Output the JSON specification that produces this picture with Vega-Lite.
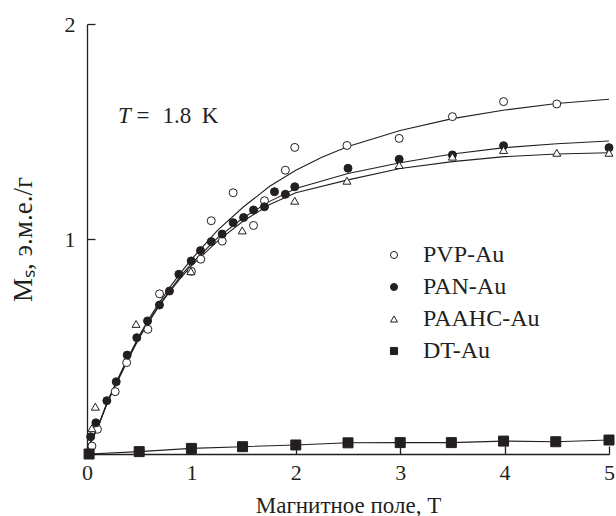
{
  "$schema": "https://vega.github.io/schema/vega-lite/v6.json",
  "width": 522,
  "height": 430,
  "autosize": "none",
  "padding": {"left": 87, "top": 24, "right": 7, "bottom": 62},
  "background": "white",
  "config": {
    "view": {"stroke": null},
    "font": "Liberation Serif",
    "axis": {
      "grid": false,
      "domainColor": "#231f20",
      "domainWidth": 1.3,
      "tickColor": "#231f20",
      "tickWidth": 1.3,
      "tickSize": -8,
      "labelFont": "Liberation Serif",
      "labelFontSize": 22,
      "labelColor": "#231f20",
      "titleFont": "Liberation Serif",
      "titleFontSize": 23,
      "titleFontWeight": "normal",
      "titleColor": "#231f20",
      "format": "d"
    },
    "legend": {
      "labelFont": "Liberation Serif",
      "labelFontSize": 24,
      "labelColor": "#231f20",
      "symbolSize": 50,
      "symbolStrokeColor": "#231f20",
      "symbolStrokeWidth": 1,
      "rowPadding": 8,
      "labelOffset": 17
    }
  },
  "datasets": {
    "curves": [
      {"series": "PVP-Au", "field": 0.03, "m": 0.05},
      {"series": "PVP-Au", "field": 0.1, "m": 0.12},
      {"series": "PVP-Au", "field": 0.2, "m": 0.25},
      {"series": "PVP-Au", "field": 0.3, "m": 0.355},
      {"series": "PVP-Au", "field": 0.4, "m": 0.455},
      {"series": "PVP-Au", "field": 0.5, "m": 0.55},
      {"series": "PVP-Au", "field": 0.6, "m": 0.635},
      {"series": "PVP-Au", "field": 0.7, "m": 0.71},
      {"series": "PVP-Au", "field": 0.8, "m": 0.78},
      {"series": "PVP-Au", "field": 0.9, "m": 0.845},
      {"series": "PVP-Au", "field": 1.0, "m": 0.905},
      {"series": "PVP-Au", "field": 1.25, "m": 1.04},
      {"series": "PVP-Au", "field": 1.5, "m": 1.15},
      {"series": "PVP-Au", "field": 1.75, "m": 1.245},
      {"series": "PVP-Au", "field": 2.0, "m": 1.32},
      {"series": "PVP-Au", "field": 2.25, "m": 1.38},
      {"series": "PVP-Au", "field": 2.5, "m": 1.43},
      {"series": "PVP-Au", "field": 3.0, "m": 1.505},
      {"series": "PVP-Au", "field": 3.5, "m": 1.56},
      {"series": "PVP-Au", "field": 4.0, "m": 1.6},
      {"series": "PVP-Au", "field": 4.5, "m": 1.63},
      {"series": "PVP-Au", "field": 5.0, "m": 1.65},
      {"series": "PAN-Au", "field": 0.03, "m": 0.05},
      {"series": "PAN-Au", "field": 0.1, "m": 0.12},
      {"series": "PAN-Au", "field": 0.2, "m": 0.245},
      {"series": "PAN-Au", "field": 0.3, "m": 0.35},
      {"series": "PAN-Au", "field": 0.4, "m": 0.45},
      {"series": "PAN-Au", "field": 0.5, "m": 0.545},
      {"series": "PAN-Au", "field": 0.6, "m": 0.625},
      {"series": "PAN-Au", "field": 0.7, "m": 0.7},
      {"series": "PAN-Au", "field": 0.8, "m": 0.765},
      {"series": "PAN-Au", "field": 0.9, "m": 0.83},
      {"series": "PAN-Au", "field": 1.0, "m": 0.885},
      {"series": "PAN-Au", "field": 1.25, "m": 1.005},
      {"series": "PAN-Au", "field": 1.5, "m": 1.1},
      {"series": "PAN-Au", "field": 1.75, "m": 1.175},
      {"series": "PAN-Au", "field": 2.0, "m": 1.235},
      {"series": "PAN-Au", "field": 2.5, "m": 1.305},
      {"series": "PAN-Au", "field": 3.0, "m": 1.355},
      {"series": "PAN-Au", "field": 3.5, "m": 1.395},
      {"series": "PAN-Au", "field": 4.0, "m": 1.425},
      {"series": "PAN-Au", "field": 4.5, "m": 1.443},
      {"series": "PAN-Au", "field": 5.0, "m": 1.456},
      {"series": "PAAHC-Au", "field": 0.03, "m": 0.05},
      {"series": "PAAHC-Au", "field": 0.1, "m": 0.12},
      {"series": "PAAHC-Au", "field": 0.2, "m": 0.245},
      {"series": "PAAHC-Au", "field": 0.3, "m": 0.345},
      {"series": "PAAHC-Au", "field": 0.4, "m": 0.445},
      {"series": "PAAHC-Au", "field": 0.5, "m": 0.54},
      {"series": "PAAHC-Au", "field": 0.6, "m": 0.62},
      {"series": "PAAHC-Au", "field": 0.7, "m": 0.695},
      {"series": "PAAHC-Au", "field": 0.8, "m": 0.76},
      {"series": "PAAHC-Au", "field": 0.9, "m": 0.82},
      {"series": "PAAHC-Au", "field": 1.0, "m": 0.875},
      {"series": "PAAHC-Au", "field": 1.25, "m": 0.99},
      {"series": "PAAHC-Au", "field": 1.5, "m": 1.085},
      {"series": "PAAHC-Au", "field": 1.75, "m": 1.16},
      {"series": "PAAHC-Au", "field": 2.0, "m": 1.215},
      {"series": "PAAHC-Au", "field": 2.5, "m": 1.275},
      {"series": "PAAHC-Au", "field": 3.0, "m": 1.328},
      {"series": "PAAHC-Au", "field": 3.5, "m": 1.36},
      {"series": "PAAHC-Au", "field": 4.0, "m": 1.383},
      {"series": "PAAHC-Au", "field": 4.5, "m": 1.395},
      {"series": "PAAHC-Au", "field": 5.0, "m": 1.401}
    ],
    "points": [
      {"series": "PVP-Au", "field": 0.047, "m": 0.037},
      {"series": "PVP-Au", "field": 0.1, "m": 0.115},
      {"series": "PVP-Au", "field": 0.27, "m": 0.29},
      {"series": "PVP-Au", "field": 0.38, "m": 0.425},
      {"series": "PVP-Au", "field": 0.583, "m": 0.58},
      {"series": "PVP-Au", "field": 0.695, "m": 0.745},
      {"series": "PVP-Au", "field": 1.0, "m": 0.85},
      {"series": "PVP-Au", "field": 1.09, "m": 0.906},
      {"series": "PVP-Au", "field": 1.19, "m": 1.085},
      {"series": "PVP-Au", "field": 1.295, "m": 0.99},
      {"series": "PVP-Au", "field": 1.4, "m": 1.215},
      {"series": "PVP-Au", "field": 1.595, "m": 1.063},
      {"series": "PVP-Au", "field": 1.7, "m": 1.178},
      {"series": "PVP-Au", "field": 1.9, "m": 1.32},
      {"series": "PVP-Au", "field": 1.99, "m": 1.426},
      {"series": "PVP-Au", "field": 2.49, "m": 1.435},
      {"series": "PVP-Au", "field": 2.99, "m": 1.468},
      {"series": "PVP-Au", "field": 3.5, "m": 1.569},
      {"series": "PVP-Au", "field": 3.99, "m": 1.639},
      {"series": "PVP-Au", "field": 4.5, "m": 1.628},
      {"series": "PAN-Au", "field": 0.035, "m": 0.08},
      {"series": "PAN-Au", "field": 0.085, "m": 0.145},
      {"series": "PAN-Au", "field": 0.19, "m": 0.248},
      {"series": "PAN-Au", "field": 0.28, "m": 0.336},
      {"series": "PAN-Au", "field": 0.385, "m": 0.46},
      {"series": "PAN-Au", "field": 0.477, "m": 0.541},
      {"series": "PAN-Au", "field": 0.58, "m": 0.619},
      {"series": "PAN-Au", "field": 0.694, "m": 0.693},
      {"series": "PAN-Au", "field": 0.79, "m": 0.758},
      {"series": "PAN-Au", "field": 0.88, "m": 0.836},
      {"series": "PAN-Au", "field": 0.998, "m": 0.898},
      {"series": "PAN-Au", "field": 1.087, "m": 0.946},
      {"series": "PAN-Au", "field": 1.19, "m": 0.988},
      {"series": "PAN-Au", "field": 1.295, "m": 1.023},
      {"series": "PAN-Au", "field": 1.4, "m": 1.076},
      {"series": "PAN-Au", "field": 1.5, "m": 1.1},
      {"series": "PAN-Au", "field": 1.595, "m": 1.135},
      {"series": "PAN-Au", "field": 1.7, "m": 1.15},
      {"series": "PAN-Au", "field": 1.796, "m": 1.22},
      {"series": "PAN-Au", "field": 1.9, "m": 1.208},
      {"series": "PAN-Au", "field": 1.99, "m": 1.243},
      {"series": "PAN-Au", "field": 2.5, "m": 1.329},
      {"series": "PAN-Au", "field": 2.99, "m": 1.371},
      {"series": "PAN-Au", "field": 3.5, "m": 1.391},
      {"series": "PAN-Au", "field": 3.99, "m": 1.434},
      {"series": "PAN-Au", "field": 5.0, "m": 1.425},
      {"series": "PAAHC-Au", "field": 0.047, "m": 0.12},
      {"series": "PAAHC-Au", "field": 0.08, "m": 0.22},
      {"series": "PAAHC-Au", "field": 0.47, "m": 0.605},
      {"series": "PAAHC-Au", "field": 0.995, "m": 0.85},
      {"series": "PAAHC-Au", "field": 1.487, "m": 1.04},
      {"series": "PAAHC-Au", "field": 1.99, "m": 1.178},
      {"series": "PAAHC-Au", "field": 2.49, "m": 1.271},
      {"series": "PAAHC-Au", "field": 2.99, "m": 1.344},
      {"series": "PAAHC-Au", "field": 3.5, "m": 1.383},
      {"series": "PAAHC-Au", "field": 3.99, "m": 1.414},
      {"series": "PAAHC-Au", "field": 4.5, "m": 1.401},
      {"series": "PAAHC-Au", "field": 5.0, "m": 1.401},
      {"series": "DT-Au", "field": 0.02, "m": 0.0},
      {"series": "DT-Au", "field": 0.5, "m": 0.011},
      {"series": "DT-Au", "field": 1.0, "m": 0.026},
      {"series": "DT-Au", "field": 1.49, "m": 0.034},
      {"series": "DT-Au", "field": 2.0, "m": 0.042},
      {"series": "DT-Au", "field": 2.5, "m": 0.052},
      {"series": "DT-Au", "field": 3.0, "m": 0.053},
      {"series": "DT-Au", "field": 3.49, "m": 0.053},
      {"series": "DT-Au", "field": 3.99, "m": 0.06},
      {"series": "DT-Au", "field": 4.49, "m": 0.057},
      {"series": "DT-Au", "field": 5.0, "m": 0.065}
    ],
    "note": [
      {"part": "T", "field": 0.296, "m": 1.538},
      {"part": "=", "field": 0.475, "m": 1.538},
      {"part": "1.8", "field": 0.724, "m": 1.538},
      {"part": "K", "field": 1.1, "m": 1.538}
    ]
  },
  "layer": [
    {
      "data": {"name": "curves"},
      "mark": {"type": "line", "color": "#231f20", "strokeWidth": 1.1, "clip": true},
      "encoding": {
        "x": {
          "field": "field", "type": "quantitative",
          "scale": {"domain": [0, 5], "nice": false, "zero": false},
          "axis": {
            "values": [0, 1, 2, 3, 4, 5],
            "title": "Магнитное поле, Т",
            "labelPadding": 16,
            "titlePadding": 11,
            "labelFlush": false,
            "encode": {
              "labels": {"update": {"dx": {"signal": "datum.value === 0 ? -16 : 0"}}},
              "ticks": {"update": {"y2": {"value": -8}}}
            }
          }
        },
        "y": {
          "field": "m", "type": "quantitative",
          "scale": {"domain": [0, 2], "nice": false},
          "axis": {
            "values": [0, 1, 2],
            "title": "Mₛ, э.м.е./г",
            "titleFontSize": 27,
            "labelExpr": "datum.value === 0 ? '' : datum.label",
            "labelPadding": 20,
            "titlePadding": 27,
            "encode": {"ticks": {"update": {"x2": {"value": 8}}}}
          }
        },
        "detail": {"field": "series"}
      }
    },
    {
      "data": {"name": "points"},
      "transform": [{"filter": "datum.series === 'DT-Au'"}],
      "mark": {"type": "line", "color": "#231f20", "strokeWidth": 1.1},
      "encoding": {
        "x": {"field": "field", "type": "quantitative"},
        "y": {"field": "m", "type": "quantitative"}
      }
    },
    {
      "data": {"name": "points"},
      "transform": [{"filter": "datum.series !== 'DT-Au'"}],
      "mark": {"type": "point", "filled": false, "strokeWidth": 1, "opacity": 1, "size": 64},
      "encoding": {
        "x": {"field": "field", "type": "quantitative"},
        "y": {"field": "m", "type": "quantitative"},
        "shape": {
          "field": "series", "type": "nominal",
          "scale": {"domain": ["PVP-Au", "PAN-Au", "PAAHC-Au", "DT-Au"], "range": ["circle", "circle", "triangle-up", "square"]},
          "legend": {"title": null, "orient": "none", "legendX": 295, "legendY": 219}
        },
        "fill": {
          "field": "series", "type": "nominal",
          "scale": {"domain": ["PVP-Au", "PAN-Au", "PAAHC-Au", "DT-Au"], "range": ["white", "#231f20", "white", "#231f20"]},
          "legend": {"title": null, "orient": "none", "legendX": 295, "legendY": 219}
        },
        "stroke": {
          "field": "series", "type": "nominal",
          "scale": {"domain": ["PVP-Au", "PAN-Au", "PAAHC-Au", "DT-Au"], "range": ["#231f20", "#231f20", "#231f20", "#231f20"]},
          "legend": {"title": null, "orient": "none", "legendX": 295, "legendY": 219}
        }
      }
    },
    {
      "data": {"name": "points"},
      "transform": [{"filter": "datum.series === 'DT-Au'"}],
      "mark": {"type": "point", "filled": false, "strokeWidth": 1, "opacity": 1, "size": 100},
      "encoding": {
        "x": {"field": "field", "type": "quantitative"},
        "y": {"field": "m", "type": "quantitative"},
        "shape": {"field": "series", "type": "nominal"},
        "fill": {"field": "series", "type": "nominal"},
        "stroke": {"field": "series", "type": "nominal"}
      }
    },
    {
      "data": {"name": "note"},
      "transform": [{"filter": "datum.part === 'T'"}],
      "mark": {"type": "text", "align": "left", "baseline": "alphabetic", "font": "Liberation Serif", "fontSize": 23, "fontStyle": "italic", "color": "#231f20"},
      "encoding": {
        "x": {"field": "field", "type": "quantitative"},
        "y": {"field": "m", "type": "quantitative"},
        "text": {"field": "part"}
      }
    },
    {
      "data": {"name": "note"},
      "transform": [{"filter": "datum.part !== 'T'"}],
      "mark": {"type": "text", "align": "left", "baseline": "alphabetic", "font": "Liberation Serif", "fontSize": 23, "color": "#231f20"},
      "encoding": {
        "x": {"field": "field", "type": "quantitative"},
        "y": {"field": "m", "type": "quantitative"},
        "text": {"field": "part"}
      }
    }
  ]
}
